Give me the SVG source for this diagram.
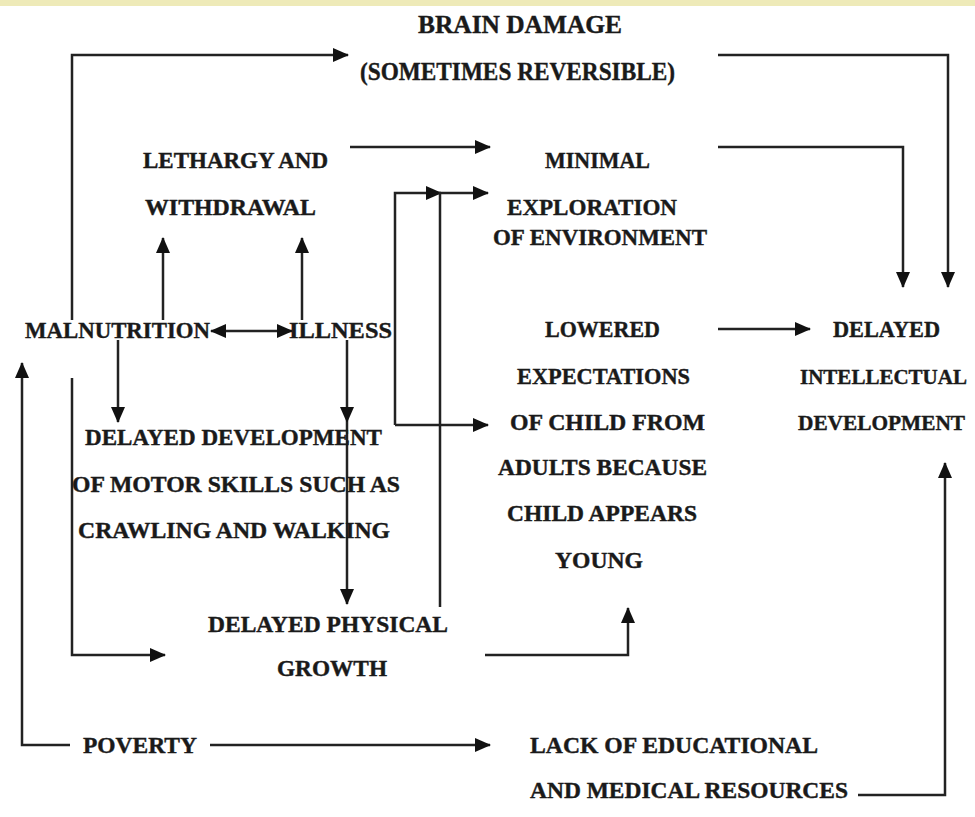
<svg xmlns="http://www.w3.org/2000/svg" width="975" height="817" viewBox="0 0 975 817">
<style>
text{font-family:"Liberation Serif","Times New Roman",serif;font-weight:bold;font-size:23px;fill:#1a1a1a;stroke:#1a1a1a;stroke-width:0.4;}
.big{font-size:26px;}
.sm{font-size:20.5px;}
.c{fill:none;stroke:#222;stroke-width:2.5;}
</style>
<defs>
<marker id="ah" markerUnits="userSpaceOnUse" markerWidth="16" markerHeight="14" refX="15" refY="7" orient="auto">
<path d="M0,0 L16,7 L0,14 Z" fill="#111"/>
</marker>
<marker id="as" markerUnits="userSpaceOnUse" markerWidth="16" markerHeight="14" refX="15" refY="7" orient="auto-start-reverse">
<path d="M0,0 L16,7 L0,14 Z" fill="#111"/>
</marker>
</defs>
<rect x="0" y="0" width="975" height="817" fill="#ffffff"/>
<rect x="0" y="0" width="975" height="6" fill="#eeeab8"/>

<g id="connectors">
<path class="c" d="M72,320 V55 H348" marker-end="url(#ah)"/>
<path class="c" d="M718,55 H948 V287" marker-end="url(#ah)"/>
<path class="c" d="M350,147 H490" marker-end="url(#ah)"/>
<path class="c" d="M718,147 H903 V287" marker-end="url(#ah)"/>
<path class="c" d="M163,320 V238" marker-end="url(#ah)"/>
<path class="c" d="M302,320 V238" marker-end="url(#ah)"/>
<path class="c" d="M211,331 H292" marker-start="url(#as)" marker-end="url(#ah)"/>
<path class="c" d="M395,425 V193 H441" marker-end="url(#ah)"/>
<path class="c" d="M395,425 H488" marker-end="url(#ah)"/>
<path class="c" d="M440,607 V193 H488" marker-end="url(#ah)"/>
<path class="c" d="M118,340 V422" marker-end="url(#ah)"/>
<path class="c" d="M347,340 V422" marker-end="url(#ah)"/>
<path class="c" d="M347,422 V604" marker-end="url(#ah)"/>
<path class="c" d="M72,378 V655 H165" marker-end="url(#ah)"/>
<path class="c" d="M485,655 H628 V608" marker-end="url(#ah)"/>
<path class="c" d="M718,329 H810" marker-end="url(#ah)"/>
<path class="c" d="M70,745 H22 V363" marker-end="url(#ah)"/>
<path class="c" d="M210,745 H490" marker-end="url(#ah)"/>
<path class="c" d="M858,795 H945 V463" marker-end="url(#ah)"/>
</g>

<g id="brain-damage">
<text class="big" x="418" y="33" textLength="204" lengthAdjust="spacingAndGlyphs">BRAIN DAMAGE</text>
<text class="big" x="360" y="80" textLength="315" lengthAdjust="spacingAndGlyphs">(SOMETIMES REVERSIBLE)</text>
</g>
<g id="lethargy">
<text x="143" y="168" textLength="185" lengthAdjust="spacingAndGlyphs">LETHARGY AND</text>
<text x="145" y="215" textLength="171" lengthAdjust="spacingAndGlyphs">WITHDRAWAL</text>
</g>
<g id="minimal-exploration">
<text x="545" y="168" textLength="105" lengthAdjust="spacingAndGlyphs">MINIMAL</text>
<text x="507" y="215" textLength="170" lengthAdjust="spacingAndGlyphs">EXPLORATION</text>
<text x="493" y="245" textLength="214" lengthAdjust="spacingAndGlyphs">OF ENVIRONMENT</text>
</g>
<g id="malnutrition">
<text x="25" y="338" textLength="185" lengthAdjust="spacingAndGlyphs">MALNUTRITION</text>
</g>
<g id="illness">
<text x="289" y="338" textLength="103" lengthAdjust="spacingAndGlyphs">ILLNESS</text>
</g>
<g id="lowered-expectations">
<text x="545" y="337" textLength="115" lengthAdjust="spacingAndGlyphs">LOWERED</text>
<text x="517" y="384" textLength="173" lengthAdjust="spacingAndGlyphs">EXPECTATIONS</text>
<text x="510" y="430" textLength="195" lengthAdjust="spacingAndGlyphs">OF CHILD FROM</text>
<text x="498" y="475" textLength="209" lengthAdjust="spacingAndGlyphs">ADULTS BECAUSE</text>
<text x="507" y="521" textLength="190" lengthAdjust="spacingAndGlyphs">CHILD APPEARS</text>
<text x="555" y="568" textLength="88" lengthAdjust="spacingAndGlyphs">YOUNG</text>
</g>
<g id="delayed-intellectual">
<text x="833" y="337" textLength="107" lengthAdjust="spacingAndGlyphs">DELAYED</text>
<text class="sm" x="800" y="384" textLength="167" lengthAdjust="spacingAndGlyphs">INTELLECTUAL</text>
<text class="sm" x="798" y="430" textLength="167" lengthAdjust="spacingAndGlyphs">DEVELOPMENT</text>
</g>
<g id="delayed-motor">
<text x="85" y="445" textLength="297" lengthAdjust="spacingAndGlyphs">DELAYED DEVELOPMENT</text>
<text x="72" y="492" textLength="328" lengthAdjust="spacingAndGlyphs">OF MOTOR SKILLS SUCH AS</text>
<text x="78" y="538" textLength="312" lengthAdjust="spacingAndGlyphs">CRAWLING AND WALKING</text>
</g>
<g id="delayed-physical">
<text x="208" y="632" textLength="240" lengthAdjust="spacingAndGlyphs">DELAYED PHYSICAL</text>
<text x="277" y="676" textLength="110" lengthAdjust="spacingAndGlyphs">GROWTH</text>
</g>
<g id="poverty">
<text x="83" y="753" textLength="114" lengthAdjust="spacingAndGlyphs">POVERTY</text>
</g>
<g id="lack-resources">
<text x="530" y="753" textLength="288" lengthAdjust="spacingAndGlyphs">LACK OF EDUCATIONAL</text>
<text x="530" y="798" textLength="318" lengthAdjust="spacingAndGlyphs">AND MEDICAL RESOURCES</text>
</g>
</svg>
